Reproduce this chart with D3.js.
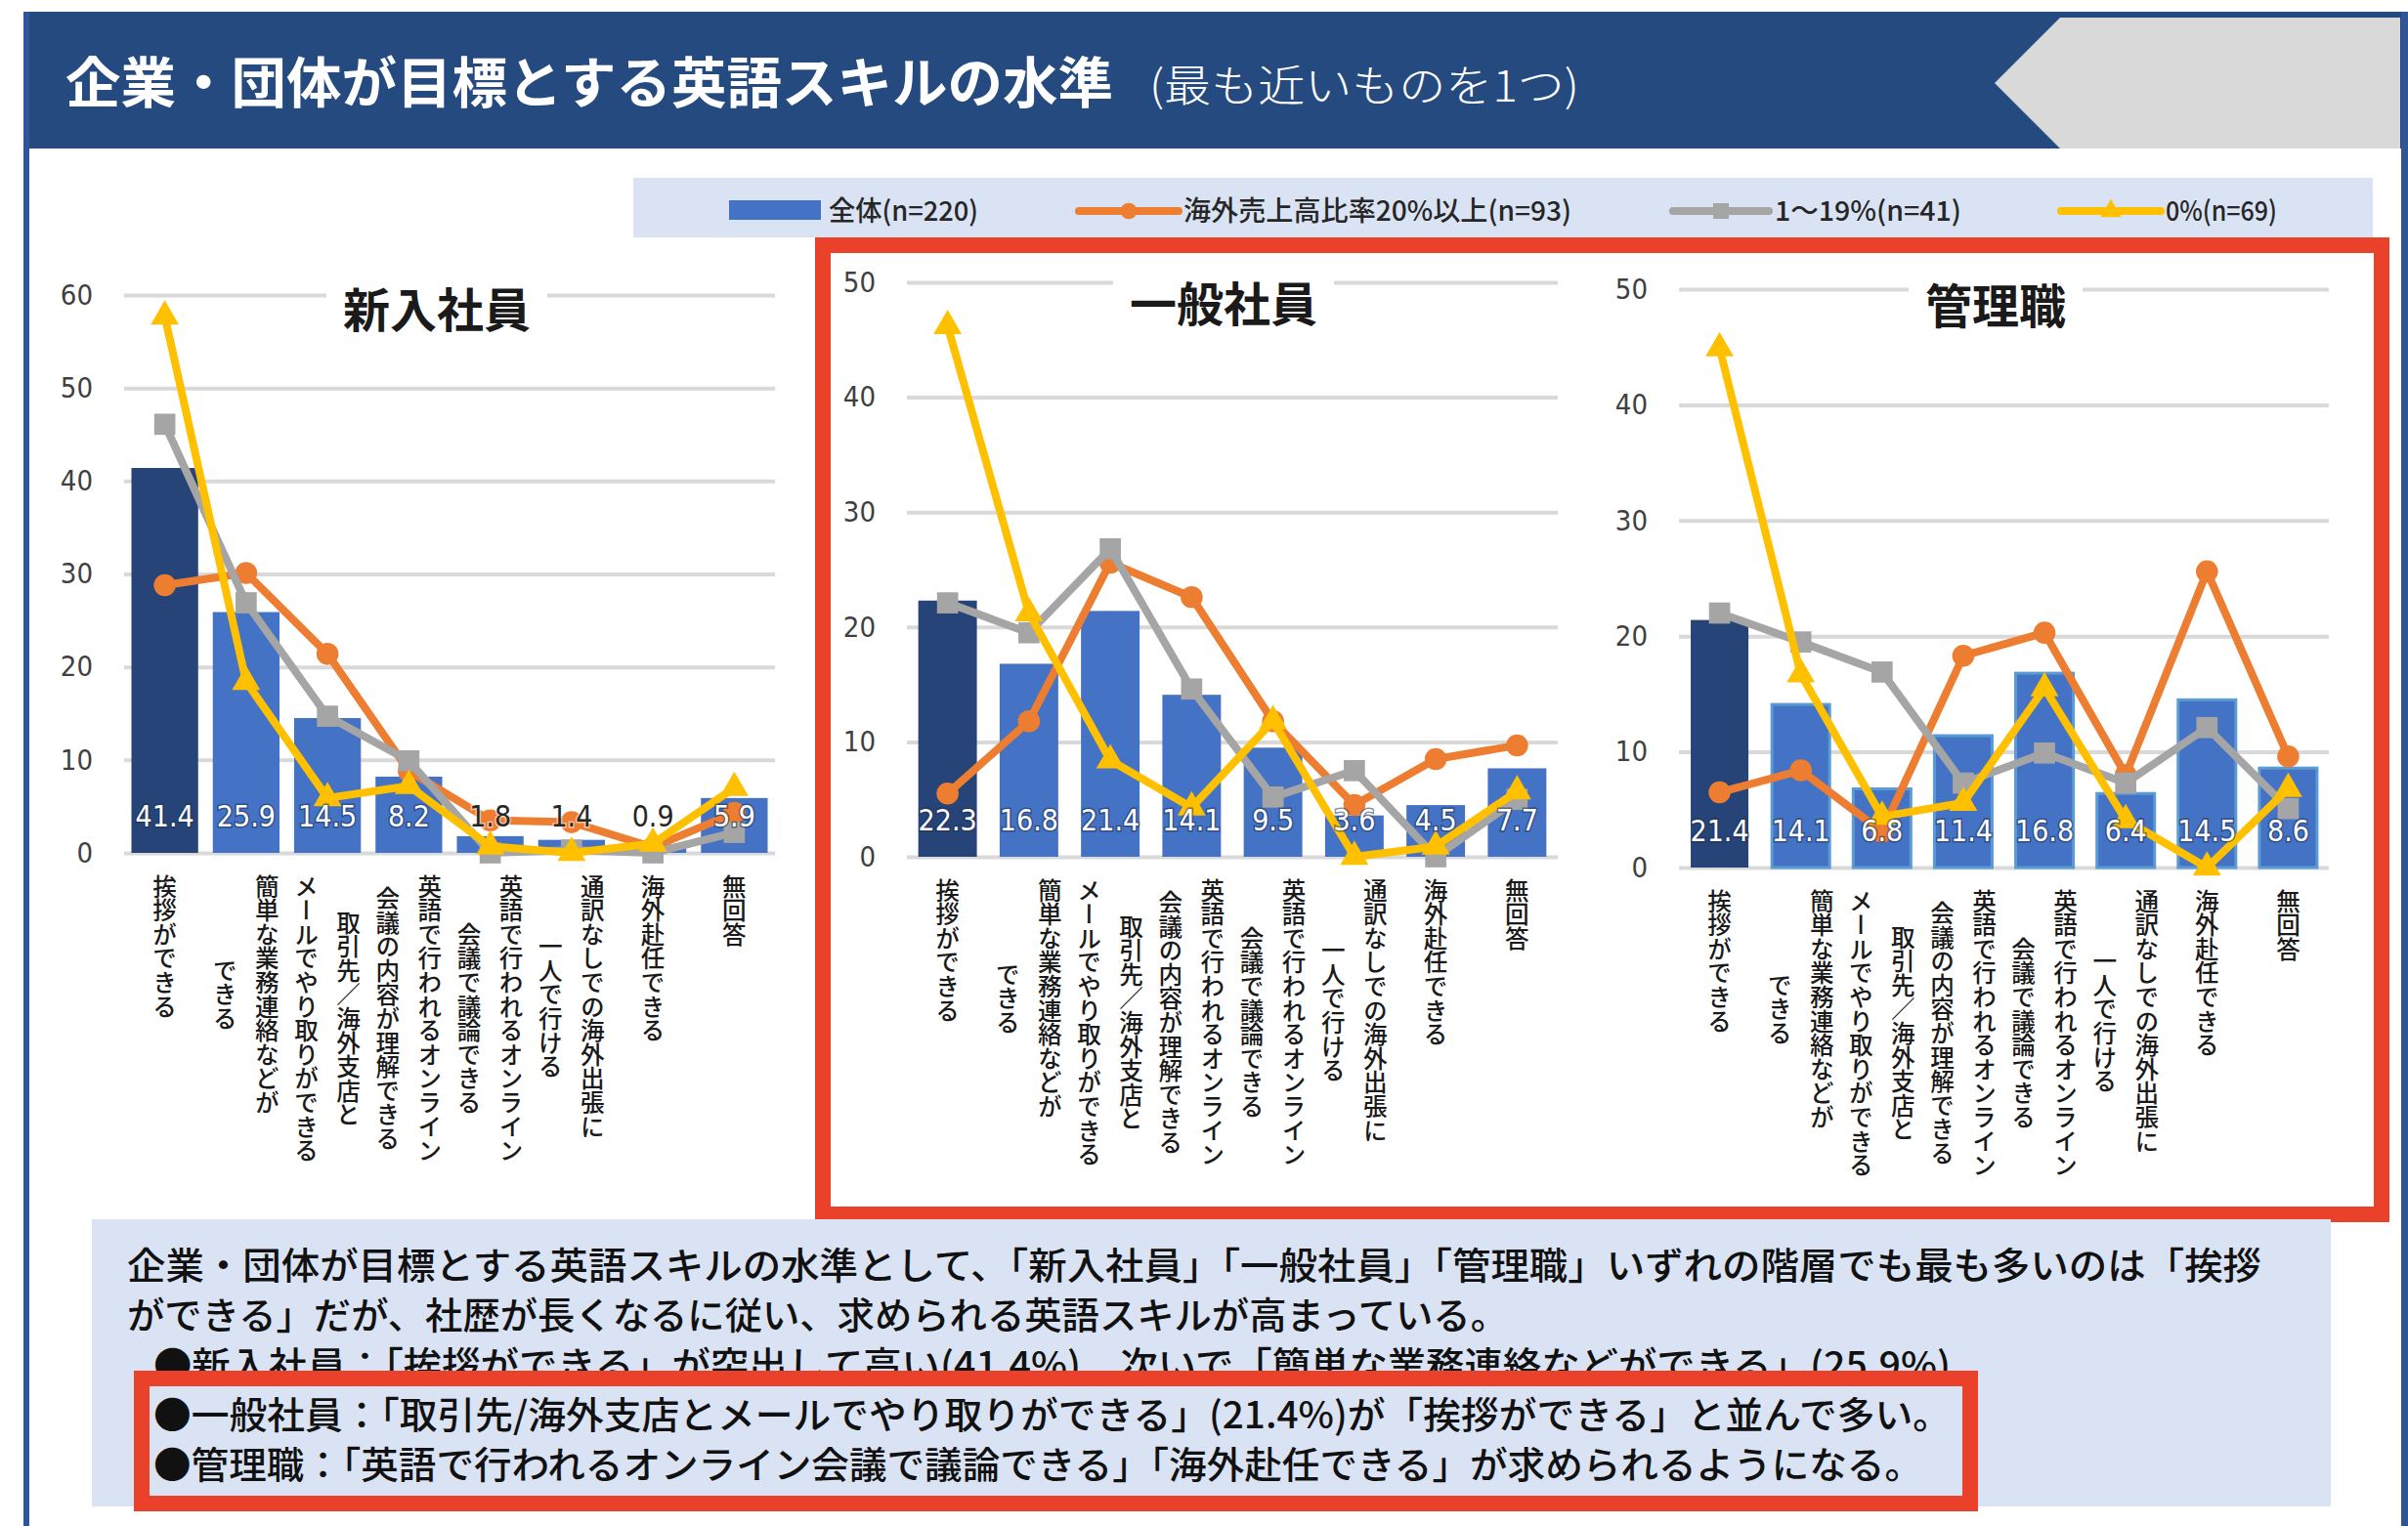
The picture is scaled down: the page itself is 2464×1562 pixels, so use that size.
<!DOCTYPE html>
<html>
<head>
<meta charset="utf-8">
<script src="https://cdn.jsdelivr.net/npm/d3@7"></script>
<style>
  body { margin: 0; background: #fff; }
  svg { display: block; }
</style>
</head>
<body>
<svg id="chart" width="2464" height="1562"></svg>
<script>
// ---- data ----
const panelNames = ["新入社員", "一般社員", "管理職"];

// category labels, one entry per vertical column (right column first)
const categories = [
  ["挨拶ができる"],
  ["簡単な業務連絡などが", "できる"],
  ["取引先／海外支店と", "メールでやり取りができる"],
  ["英語で行われるオンライン", "会議の内容が理解できる"],
  ["英語で行われるオンライン", "会議で議論できる"],
  ["通訳なしでの海外出張に", "一人で行ける"],
  ["海外赴任できる"],
  ["無回答"]
];

const seriesNames = ["全体(n=220)", "海外売上高比率20%以上(n=93)", "1～19%(n=41)", "0%(n=69)"];

const shinnyuTotal = [41.4, 25.9, 14.5, 8.2, 1.8, 1.4, 0.9, 5.9];
const shinnyuHigh  = [28.8, 30.1, 21.4, 8.8, 3.5, 3.3, 0.6, 4.3];
const shinnyuMid   = [46.1, 26.9, 14.7, 9.9, 0.0, 0.3, 0.0, 2.2];
const shinnyuZero  = [57.7, 18.4, 5.9, 7.2, 0.7, 0.0, 1.0, 7.0];

const ippanTotal = [22.3, 16.8, 21.4, 14.1, 9.5, 3.6, 4.5, 7.7];
const ippanHigh  = [5.5, 11.8, 25.6, 22.6, 11.8, 4.5, 8.5, 9.7];
const ippanMid   = [22.1, 19.5, 26.8, 14.6, 5.2, 7.5, 0.0, 5.0];
const ippanZero  = [46.2, 21.2, 8.4, 4.3, 11.8, 0.0, 0.9, 5.7];

const kanriTotal = [21.4, 14.1, 6.8, 11.4, 16.8, 6.4, 14.5, 8.6];
const kanriHigh  = [6.5, 8.4, 3.1, 18.3, 20.3, 8.0, 25.6, 9.6];
const kanriMid   = [22.0, 19.5, 16.9, 7.3, 9.9, 7.3, 12.1, 5.1];
const kanriZero  = [44.9, 16.7, 4.4, 5.6, 15.5, 4.1, 0.0, 6.8];

const axisMax = [60, 50, 50];

const titleMain = "企業・団体が目標とする英語スキルの水準";
const titleSub = "(最も近いものを1つ)";
const summaryLines = [
  "企業・団体が目標とする英語スキルの水準として、「新入社員」「一般社員」「管理職」いずれの階層でも最も多いのは「挨拶",
  "ができる」だが、社歴が長くなるに従い、求められる英語スキルが高まっている。",
  "●新入社員：「挨拶ができる」が突出して高い(41.4%)、次いで「簡単な業務連絡などができる」(25.9%)",
  "●一般社員：「取引先/海外支店とメールでやり取りができる」(21.4%)が「挨拶ができる」と並んで多い。",
  "●管理職：「英語で行われるオンライン会議で議論できる」「海外赴任できる」が求められるようになる。"
];

// ---- styles ----
const JP = "'Noto Sans CJK JP', 'Noto Sans', sans-serif";
const NUM = "'DejaVu Sans Condensed', 'Liberation Sans Narrow', sans-serif";
const lineColors = ["#ed7d31", "#a5a5a5", "#ffc000"];
const lineSymbols = [d3.symbolCircle, d3.symbolSquare, d3.symbolTriangle];
const symbolSizes = [400, 470, 360];
const RED = "#e9412a";
const PALE = "#dae3f3";

const svg = d3.select("#chart");

// ---- header ----
svg.append("rect").attr("x", 24).attr("y", 12).attr("width", 2440).attr("height", 140).attr("fill", "#254a7f");
svg.append("polygon").attr("points", "2041,85 2108,18 2456,18 2456,152 2108,152").attr("fill", "#d9d9d9");
svg.append("rect").attr("x", 24).attr("y", 12).attr("width", 6).attr("height", 1550).attr("fill", "#2f5597");
svg.append("rect").attr("x", 2457).attr("y", 12).attr("width", 7).attr("height", 1550).attr("fill", "#2f5597");

svg.append("text").attr("x", 67).attr("y", 105)
  .attr("font-family", JP).attr("font-size", 56).attr("font-weight", 700).attr("fill", "#fff")
  .attr("textLength", 1072).attr("lengthAdjust", "spacingAndGlyphs")
  .text(titleMain);
svg.append("text").attr("x", 1176).attr("y", 104)
  .attr("font-family", JP).attr("font-size", 44).attr("font-weight", 300).attr("fill", "#fff")
  .attr("textLength", 440).attr("lengthAdjust", "spacingAndGlyphs")
  .text(titleSub);

// ---- legend ----
svg.append("rect").attr("x", 648).attr("y", 182).attr("width", 1780).attr("height", 61).attr("fill", PALE);
const legendItems = [
  { sx: 746, ex: 840, tx: 848, tw: 153 },
  { sx: 1104, ex: 1206, tx: 1211, tw: 397 },
  { sx: 1712, ex: 1810, tx: 1816, tw: 191 },
  { sx: 2109, ex: 2211, tx: 2216, tw: 114 }
];
legendItems.forEach((it, i) => {
  const g = svg.append("g");
  if (i === 0) {
    g.append("rect").attr("x", it.sx).attr("y", 205).attr("width", it.ex - it.sx).attr("height", 20).attr("fill", "#4472c4");
  } else {
    g.append("line").attr("x1", it.sx).attr("x2", it.ex).attr("y1", 216).attr("y2", 216)
      .attr("stroke", lineColors[i - 1]).attr("stroke-width", 8).attr("stroke-linecap", "round");
    g.append("path").attr("d", d3.symbol(lineSymbols[i - 1], symbolSizes[i - 1] * 0.55)())
      .attr("transform", `translate(${(it.sx + it.ex) / 2},216)`).attr("fill", lineColors[i - 1]);
  }
  g.append("text").attr("x", it.tx).attr("y", 226)
    .attr("font-family", JP).attr("font-size", 28).attr("font-weight", 500).attr("fill", "#262626")
    .attr("textLength", it.tw).attr("lengthAdjust", "spacingAndGlyphs")
    .text(seriesNames[i]);
});

// ---- panels ----
const panels = [
  { name: panelNames[0], total: shinnyuTotal, lines: [shinnyuHigh, shinnyuMid, shinnyuZero], max: axisMax[0],
    x0: 127, x1: 793, y0: 873, y1: 302, pad: 0.18, tx: 447, ty: 314, stroke: "none" },
  { name: panelNames[1], total: ippanTotal, lines: [ippanHigh, ippanMid, ippanZero], max: axisMax[1],
    x0: 928, x1: 1594, y0: 877, y1: 289, pad: 0.28, tx: 1252, ty: 308, stroke: "none" },
  { name: panelNames[2], total: kanriTotal, lines: [kanriHigh, kanriMid, kanriZero], max: axisMax[2],
    x0: 1718, x1: 2383, y0: 888, y1: 296, pad: 0.29, tx: 2042, ty: 310, stroke: "#5b9bd5" }
];

panels.forEach(p => {
  const g = svg.append("g");
  const x = d3.scaleBand().domain(d3.range(categories.length)).range([p.x0, p.x1])
    .paddingInner(p.pad).paddingOuter(p.pad / 2);
  const y = d3.scaleLinear().domain([0, p.max]).range([p.y0, p.y1]);
  const cx = i => x(i) + x.bandwidth() / 2;

  // axis + gridlines
  const ax = g.append("g").attr("transform", `translate(${p.x0},0)`)
    .call(d3.axisLeft(y).ticks(p.max / 10).tickSizeInner(-(p.x1 - p.x0)).tickSizeOuter(0).tickPadding(32));
  ax.select(".domain").remove();
  ax.selectAll(".tick line").attr("stroke", "#d9d9d9").attr("stroke-width", 4);
  ax.selectAll(".tick text").attr("font-family", NUM).attr("font-size", 29).attr("fill", "#404040");

  // panel title with a gap in the top gridline
  const t = g.append("text").attr("x", p.tx).attr("y", p.ty)
    .attr("text-anchor", "middle").attr("dominant-baseline", "central")
    .attr("font-family", JP).attr("font-size", 48).attr("font-weight", 700).attr("fill", "#1a1a1a")
    .text(p.name);
  const bb = t.node().getBBox();
  g.append("rect").attr("x", bb.x - 17).attr("y", p.y1 - 6)
    .attr("width", bb.width + 34).attr("height", 12).attr("fill", "#fff");
  t.raise();

  // bars
  g.selectAll("rect.bar").data(p.total).join("rect").attr("class", "bar")
    .attr("x", (d, i) => x(i)).attr("width", x.bandwidth())
    .attr("y", d => y(d)).attr("height", d => y(0) - y(d))
    .attr("fill", (d, i) => i === 0 ? "#264478" : "#4472c4")
    .attr("stroke", (d, i) => i === 0 ? "none" : p.stroke).attr("stroke-width", 3);

  // lines with markers
  p.lines.forEach((vals, k) => {
    g.append("path").datum(vals)
      .attr("d", d3.line().x((d, i) => cx(i)).y(d => y(d)))
      .attr("fill", "none").attr("stroke", lineColors[k]).attr("stroke-width", 8)
      .attr("stroke-linejoin", "round");
    g.selectAll(null).data(vals).join("path")
      .attr("d", d3.symbol(lineSymbols[k], symbolSizes[k])())
      .attr("transform", (d, i) => `translate(${cx(i)},${y(d)})`)
      .attr("fill", lineColors[k]);
  });

  // value labels near the bar base
  g.selectAll("text.val").data(p.total).join("text").attr("class", "val")
    .attr("x", (d, i) => cx(i)).attr("y", p.y0 - 38)
    .attr("text-anchor", "middle").attr("dominant-baseline", "central")
    .attr("font-family", NUM).attr("font-size", 30)
    .attr("fill", d => d >= 3 ? "#fff" : "#262626")
    .attr("stroke", d => d >= 3 ? "#1f2f4f" : "#fff").attr("stroke-width", 3)
    .attr("stroke-opacity", 0.55).attr("paint-order", "stroke")
    .text(d => d.toFixed(1));

  // vertical category labels
  categories.forEach((cols, i) => {
    const maxLen = d3.max(cols, c => Array.from(c).length);
    const pitch = 24.6;
    const top = p.y0 + 22;
    cols.forEach((c, j) => {
      g.append("text")
        .attr("x", cx(i) + (cols.length - 1) / 2 * 43 - j * 43)
        .attr("y", top + maxLen * pitch / 2)
        .attr("text-anchor", "middle")
        .style("writing-mode", "vertical-rl")
        .attr("font-family", JP).attr("font-size", 24.6).attr("font-weight", 500).attr("fill", "#1a1a1a")
        .text(c);
    });
  });
});

// red frame around the two right panels
svg.append("rect").attr("x", 842).attr("y", 251).attr("width", 1595).attr("height", 992)
  .attr("fill", "none").attr("stroke", RED).attr("stroke-width", 16);

// ---- summary box ----
svg.append("rect").attr("x", 94).attr("y", 1248).attr("width", 2291).attr("height", 294).attr("fill", PALE);
const lineLayout = [
  { x: 130, y: 1309, w: 2184 },
  { x: 130, y: 1360, w: 1413 },
  { x: 157, y: 1411, w: 1839 },
  { x: 157, y: 1462, w: 1839 },
  { x: 157, y: 1513, w: 1810 }
];
const drawLine = i => svg.append("text")
  .attr("x", lineLayout[i].x).attr("y", lineLayout[i].y)
  .attr("font-family", JP).attr("font-size", 38).attr("font-weight", 500).attr("fill", "#111")
  .attr("textLength", lineLayout[i].w).attr("lengthAdjust", "spacingAndGlyphs")
  .text(summaryLines[i]);
[0, 1, 2].forEach(drawLine);
// highlighted box covers the lower part of the third line
svg.append("rect").attr("x", 145).attr("y", 1411).attr("width", 1871).attr("height", 128)
  .attr("fill", PALE).attr("stroke", RED).attr("stroke-width", 16);
[3, 4].forEach(drawLine);
</script>
</body>
</html>
